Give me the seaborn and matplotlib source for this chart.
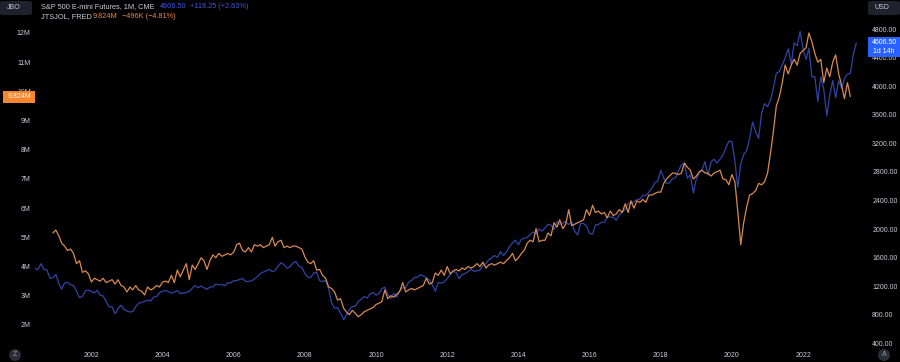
import numpy as np
import pandas as pd
import matplotlib
matplotlib.use('Agg')
import matplotlib.pyplot as plt
import seaborn as sns
from matplotlib.patches import FancyBboxPatch, Ellipse

# S&P 500 E-mini futures, monthly close, Jun 2000 .. Jul 2023
sp_close = [
    1455, 1431, 1518, 1437, 1429, 1315, 1320,                              # 2000 (Jun-Dec)
    1366, 1240, 1160, 1249, 1256, 1224, 1211, 1134, 1041, 1060, 1139, 1148,  # 2001
    1130, 1107, 1147, 1077, 1067, 990, 912, 916, 815, 886, 936, 880,         # 2002
    856, 841, 848, 917, 964, 975, 990, 1008, 996, 1051, 1058, 1112,          # 2003
    1131, 1145, 1126, 1107, 1121, 1141, 1102, 1104, 1115, 1130, 1174, 1212,  # 2004
    1181, 1204, 1181, 1157, 1192, 1191, 1234, 1220, 1229, 1207, 1249, 1248,  # 2005
    1280, 1281, 1295, 1311, 1270, 1270, 1277, 1304, 1336, 1378, 1401, 1418,  # 2006
    1438, 1407, 1421, 1482, 1531, 1503, 1455, 1474, 1527, 1549, 1481, 1468,  # 2007
    1379, 1331, 1323, 1386, 1400, 1280, 1267, 1283, 1165, 969, 896, 903,     # 2008
    826, 735, 798, 873, 919, 919, 987, 1021, 1057, 1036, 1096, 1115,         # 2009
    1074, 1104, 1169, 1187, 1089, 1031, 1102, 1049, 1141, 1183, 1181, 1258,  # 2010
    1286, 1327, 1326, 1364, 1345, 1321, 1292, 1219, 1131, 1253, 1247, 1258,  # 2011
    1312, 1366, 1408, 1398, 1310, 1362, 1379, 1407, 1441, 1412, 1416, 1426,  # 2012
    1498, 1515, 1569, 1598, 1631, 1606, 1686, 1633, 1682, 1757, 1806, 1848,  # 2013
    1783, 1859, 1872, 1884, 1924, 1960, 1931, 2003, 1972, 2018, 2068, 2059,  # 2014
    1995, 2105, 2068, 2086, 2107, 2063, 2104, 1972, 1920, 2079, 2080, 2044,  # 2015
    1940, 1932, 2060, 2065, 2097, 2099, 2174, 2171, 2168, 2126, 2199, 2239,  # 2016
    2279, 2364, 2363, 2384, 2412, 2423, 2470, 2472, 2519, 2575, 2648, 2674,  # 2017
    2824, 2714, 2641, 2648, 2705, 2718, 2816, 2902, 2914, 2712, 2760, 2507,  # 2018
    2704, 2784, 2834, 2946, 2752, 2942, 2980, 2926, 2977, 3038, 3141, 3231,  # 2019
    3226, 2954, 2585, 2912, 3044, 3100, 3271, 3500, 3363, 3270, 3622, 3756,  # 2020
    3714, 3811, 3973, 4181, 4204, 4298, 4395, 4523, 4308, 4605, 4567, 4766,  # 2021
    4516, 4374, 4530, 4132, 4132, 3785, 4130, 3955, 3586, 3872, 4080, 3840,  # 2022
    4077, 3970, 4109, 4169, 4180, 4450, 4606.5,                              # 2023 (Jan-Jul)
]

# JOLTS job openings (millions), Dec 2000 .. May 2023
jolts = [
    5.15,                                                                    # 2000 (Dec)
    5.25, 5.05, 4.8, 4.7, 4.55, 4.6, 4.45, 4.1, 4.2, 3.8, 3.85, 3.75,        # 2001
    3.47, 3.6, 3.55, 3.5, 3.6, 3.45, 3.5, 3.55, 3.4, 3.55, 3.35, 3.3,        # 2002
    3.13, 3.3, 3.2, 3.35, 3.2, 3.15, 3.03, 3.3, 3.2, 3.25, 3.35, 3.3,        # 2003
    3.47, 3.5, 3.45, 3.7, 3.45, 3.88, 3.65, 3.88, 4.1, 3.55, 4.05, 3.9,      # 2004
    4.1, 4.3, 4.2, 3.9, 4.2, 4.4, 4.3, 4.45, 4.35, 4.4, 4.45, 4.4,           # 2005
    4.5, 4.75, 4.8, 4.55, 4.5, 4.65, 4.5, 4.75, 4.7, 4.75, 4.65, 4.7,        # 2006
    4.75, 5.0, 4.7, 4.85, 4.9, 4.65, 4.7, 4.65, 4.7, 4.7, 4.65, 4.6,         # 2007
    4.33, 4.15, 4.1, 4.2, 3.88, 3.9, 3.7, 3.6, 3.3, 3.25, 3.13, 2.85,        # 2008
    2.9, 2.58, 2.45, 2.35, 2.5, 2.4, 2.28, 2.35, 2.45, 2.5, 2.55, 2.6,       # 2009
    2.7, 2.75, 2.8, 3.2, 2.9, 3.0, 2.95, 3.05, 3.15, 3.45, 3.13, 3.2,        # 2010
    3.25, 3.2, 3.25, 3.3, 3.35, 3.6, 3.4, 3.45, 3.78, 3.7, 3.88, 3.7,        # 2011
    4.0, 3.75, 3.85, 3.9, 3.85, 3.95, 3.9, 4.0, 3.95, 4.0, 4.1, 4.0,         # 2012
    4.15, 3.95, 4.05, 4.1, 4.05, 4.1, 4.15, 4.1, 4.2, 4.3, 4.45, 4.2,        # 2013
    4.3, 4.45, 4.55, 4.8, 4.9, 4.85, 5.3, 4.85, 4.9, 4.9, 5.15, 5.05,        # 2014
    5.5, 5.35, 5.6, 5.3, 5.45, 5.95, 5.4, 5.45, 5.5, 5.55, 5.6, 5.95,        # 2015
    5.75, 6.1, 5.85, 5.9, 5.8, 5.85, 5.67, 5.9, 5.75, 5.8, 5.95, 5.85,       # 2016
    6.15, 5.85, 6.25, 6.0, 6.25, 6.2, 6.3, 6.2, 6.45, 6.45, 6.5, 6.55,       # 2017
    6.55, 6.85, 7.0, 7.1, 7.2, 7.2, 7.15, 7.2, 7.55, 7.4, 7.3, 7.0,          # 2018
    7.1, 7.25, 7.3, 7.2, 7.2, 7.1, 7.2, 7.25, 7.3, 7.0, 6.97, 6.8,           # 2019
    7.15, 6.9, 5.9, 4.75, 5.5, 6.05, 6.45, 6.5, 6.6, 6.85, 6.8, 6.9,         # 2020
    7.2, 7.9, 8.6, 9.5, 9.8, 10.3, 10.9, 10.6, 10.9, 11.1, 10.9, 11.3,       # 2021
    11.4, 11.5, 12.0, 11.7, 11.3, 11.0, 11.1, 10.3, 10.8, 10.5, 11.0, 11.25, # 2022
    10.6, 10.2, 9.75, 10.3, 9.824,                                           # 2023 (Jan-May)
]

left_ticks = [2, 3, 4, 5, 6, 7, 8, 9, 10, 11, 12]
right_ticks = [400, 800, 1200, 1600, 2000, 2400, 2800, 3200, 3600, 4000, 4400, 4800]
year_ticks = [2002, 2004, 2006, 2008, 2010, 2012, 2014, 2016, 2018, 2020, 2022]

BLUE = '#3044a6'
ORANGE = '#d98a52'
TEXT = '#c9ccd4'
FS = 5          # scale / tick text
FS_HEAD = 5.3   # header legend

sp = pd.DataFrame({'date': pd.date_range('2000-06-01', periods=len(sp_close), freq='MS'),
                   'close': sp_close})
jo = pd.DataFrame({'date': pd.date_range('2000-12-01', periods=len(jolts), freq='MS'),
                   'openings': jolts})

sns.set_style('dark', {'axes.facecolor': 'black', 'figure.facecolor': 'black'})
plt.rcParams['font.family'] = ['Liberation Sans', 'DejaVu Sans']

W, H = 900, 362
def fx(x):
    return x / W
def fy(y):
    return 1 - y / H

fig = plt.figure(figsize=(9, 3.62), dpi=100, facecolor='black')
ax_sp = fig.add_axes([fx(35), fy(348), fx(868 - 35), 348 / H])
ax_jo = ax_sp.twinx()

# S&P on the right scale, JOLTS on the left scale (drawn on top)
sns.lineplot(data=sp, x='date', y='close', ax=ax_sp, color=BLUE, linewidth=0.9)
sns.lineplot(data=jo, x='date', y='openings', ax=ax_jo, color=ORANGE, linewidth=0.9)

ax_sp.set_xlim(pd.Timestamp('2000-06-01'), pd.Timestamp('2023-10-29'))
ax_sp.set_ylim(338, 5206)
ax_jo.set_ylim(1.21, 13.13)

ax_sp.yaxis.tick_right()
ax_jo.yaxis.tick_left()
ax_sp.set_yticks(right_ticks)
ax_sp.set_yticklabels(['%.2f' % v for v in right_ticks])
ax_jo.set_yticks(left_ticks)
ax_jo.set_yticklabels(['%dM' % v for v in left_ticks])
ax_sp.set_xticks(pd.to_datetime(['%d-01-01' % y for y in year_ticks]))
ax_sp.set_xticklabels([str(y) for y in year_ticks])

for a in (ax_sp, ax_jo):
    a.set_xlabel('')
    a.set_ylabel('')
    a.grid(False)
    a.set_facecolor('none')
    for sp_ in a.spines.values():
        sp_.set_visible(False)
    a.tick_params(length=0, labelsize=FS, labelcolor=TEXT, pad=3)
ax_sp.patch.set_facecolor('black')
ax_sp.patch.set_visible(True)

# header legend
fig.text(fx(41), fy(7), 'S&P 500 E-mini Futures, 1M, CME', color=TEXT, fontsize=FS_HEAD, va='center')
fig.text(fx(160), fy(7), '4606.50', color='#4257d6', fontsize=FS_HEAD, va='center')
fig.text(fx(190), fy(7), '+118.25 (+2.63%)', color='#4257d6', fontsize=FS_HEAD, va='center')
fig.text(fx(41), fy(17), 'JTSJOL, FRED', color=TEXT, fontsize=FS_HEAD, va='center')
fig.text(fx(93), fy(17), '9.824M', color='#e8894d', fontsize=FS_HEAD, va='center')
fig.text(fx(122), fy(17), '\u2212496K (\u22124.81%)', color='#e8894d', fontsize=FS_HEAD, va='center')

# scale buttons
for x0, label in ((0, 'JBO'), (868, 'USD')):
    fig.patches.append(FancyBboxPatch((fx(x0), fy(15)), fx(32), 14 / H,
                                      boxstyle='round,pad=0,rounding_size=0.004',
                                      transform=fig.transFigure, fc='#1e222d', ec='none'))
    fig.text(fx(x0 + 14), fy(7.5), label, color=TEXT, fontsize=FS, ha='center', va='center')

# last value labels
fig.patches.append(FancyBboxPatch((fx(3), fy(103)), fx(32), 12 / H, boxstyle='square,pad=0',
                                  transform=fig.transFigure, fc='#f5862d', ec='none'))
fig.text(fx(19), fy(97), '9.824M', color='white', fontsize=FS, ha='center', va='center')
fig.patches.append(FancyBboxPatch((fx(868), fy(57)), fx(32), 20 / H, boxstyle='square,pad=0',
                                  transform=fig.transFigure, fc='#2962ff', ec='none'))
fig.text(fx(884), fy(42.5), '4606.50', color='white', fontsize=FS, ha='center', va='center')
fig.text(fx(884), fy(51.5), '1d 14h', color='white', fontsize=FS, ha='center', va='center')

# corner buttons
for cx, label in ((15, 'Z'), (884, 'A')):
    fig.patches.append(Ellipse((fx(cx), fy(355)), fx(12), 12 / H,
                               transform=fig.transFigure, fc='#2a2e39', ec='none'))
    fig.text(fx(cx), fy(355), label, color='#9598a1', fontsize=FS, ha='center', va='center')

fig.savefig('out.png', dpi=100, facecolor='black')
